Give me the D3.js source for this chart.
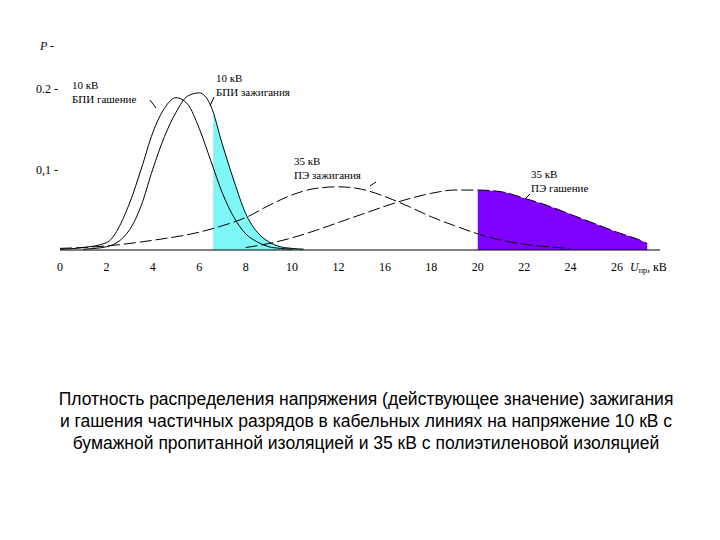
<!DOCTYPE html><html><head><meta charset="utf-8">
<script src="https://cdn.jsdelivr.net/npm/d3@7"></script>
<style>body{margin:0;background:#fff}</style></head><body>
<svg id="c" width="720" height="540"></svg>
<script>
const tickPos=[0,2,4,6,8,10,12,14,16,18,20,22,24];
const tickLabels=["0","2","4","6","8","10","12","16","18","20","22","24","26"];
const yTicks=[0.1,0.2]; const yTickLabels=["0,1","0.2"];
const xA=[0,1,2,3,3.5,4,4.5,5,5.5,6,6.5,7,7.5,8,8.5,9,9.5,10];
const yA=[0.001,0.003,0.009,0.058,0.1,0.145,0.175,0.188,0.18,0.15,0.11,0.07,0.04,0.02,0.01,0.004,0.002,0.001];
const xB=[1,2,3,3.5,4,4.5,5,5.5,6,6.5,7,7.5,8,8.5,9,9.5,10,10.5];
const yB=[0.001,0.004,0.025,0.055,0.1,0.14,0.17,0.19,0.194,0.178,0.13,0.085,0.045,0.022,0.01,0.004,0.002,0.001];
const xC=[0,2,4,6,7,8,9,10,11,12,13,14,15,16,17,18,19,20,21,22];
const yC=[0.002,0.005,0.012,0.022,0.03,0.04,0.055,0.068,0.076,0.078,0.075,0.066,0.054,0.041,0.03,0.02,0.012,0.007,0.004,0.002];
const xD=[8,9,10,11,12,13,14,15,16,17,18,19,20,21,22,23,24,25,25.3];
const yD=[0.003,0.008,0.015,0.024,0.034,0.044,0.054,0.063,0.07,0.074,0.074,0.072,0.064,0.055,0.044,0.033,0.022,0.012,0.008];
const shadeB=[6.6,10.5], shadeD=[18,25.3];
const svg=d3.select("#c");
const x=d3.scaleLinear().domain([0,24]).range([60,617]);
const y=d3.scaleLinear().domain([0,0.2]).range([250,88]);
const line=d3.line().x(d=>x(d[0])).y(d=>y(d[1])).curve(d3.curveMonotoneX);
const area=d3.area().x(d=>x(d[0])).y0(y(0)).y1(d=>y(d[1])).curve(d3.curveMonotoneX);
function clip(xs,ys,r){const f=d3.scaleLinear().domain(xs).range(ys);const pts=[[r[0],f(r[0])]];xs.forEach((v,i)=>{if(v>r[0]&&v<r[1])pts.push([v,ys[i]])});pts.push([r[1],f(r[1])]);return pts;}
svg.append("path").attr("d",area(clip(xB,yB,shadeB))).attr("fill","#7ff7f7");
svg.append("path").attr("d",area(clip(xD,yD,shadeD))).attr("fill","#8000ff");
const z=(xs,ys)=>xs.map((v,i)=>[v,ys[i]]);
svg.append("path").attr("d",line(z(xA,yA))).attr("fill","none").attr("stroke","#000");
svg.append("path").attr("d",line(z(xB,yB))).attr("fill","none").attr("stroke","#000");
svg.append("path").attr("d",line(z(xC,yC))).attr("fill","none").attr("stroke","#000").attr("stroke-dasharray","12,4");
svg.append("path").attr("d",line(z(xD,yD))).attr("fill","none").attr("stroke","#000").attr("stroke-dasharray","12,4");
svg.append("line").attr("x1",60).attr("x2",660).attr("y1",y(0)).attr("y2",y(0)).attr("stroke","#000");
const serif="'Liberation Serif','DejaVu Serif',serif";
svg.selectAll(".xt").data(tickPos).join("text").attr("x",d=>x(d)).attr("y",271).attr("text-anchor","middle")
 .attr("font-family",serif).attr("font-size",12).text((d,i)=>tickLabels[i]);
svg.selectAll(".yt").data(yTicks).join("text").attr("x",36).attr("y",d=>y(d)+5).attr("font-family",serif).attr("font-size",12).text((d,i)=>yTickLabels[i]+"  -");
svg.append("text").attr("x",40).attr("y",50).attr("font-family",serif).attr("font-size",12).attr("font-style","italic").text("P  -");
svg.append("text").attr("x",630).attr("y",271).attr("font-family",serif).attr("font-size",12).html("<tspan font-style='italic'>U</tspan><tspan font-size='8' dy='2'>пр</tspan><tspan dy='-2'>, кВ</tspan>");
function lab(tx,ty,l1,l2,lx1,ly1,lx2,ly2){const t=svg.append("text").attr("font-family",serif).attr("font-size",11);
 t.append("tspan").attr("x",tx).attr("y",ty).text(l1);t.append("tspan").attr("x",tx).attr("y",ty+14).text(l2);
 svg.append("line").attr("x1",lx1).attr("y1",ly1).attr("x2",lx2).attr("y2",ly2).attr("stroke","#000");}
lab(72,89,"10 кВ","БПИ гашение",150,100,156,108);
lab(216,82,"10 кВ","БПИ зажигания",214,97,210,106);
lab(294,165,"35 кВ","ПЭ зажигания",370,186,376,182);
lab(531,178,"35 кВ","ПЭ гашение",526,198,530,194);
const cap=["Плотность распределения напряжения (действующее значение) зажигания","и гашения  частичных разрядов в кабельных линиях на напряжение 10 кВ с","бумажной пропитанной изоляцией и 35 кВ с полиэтиленовой изоляцией"];
svg.selectAll(".cap").data(cap).join("text").attr("x",366).attr("y",(d,i)=>405+i*22).attr("text-anchor","middle")
 .attr("font-family","'Liberation Sans',Arial,sans-serif").attr("font-size",17.5).text(d=>d);
</script></body></html>
